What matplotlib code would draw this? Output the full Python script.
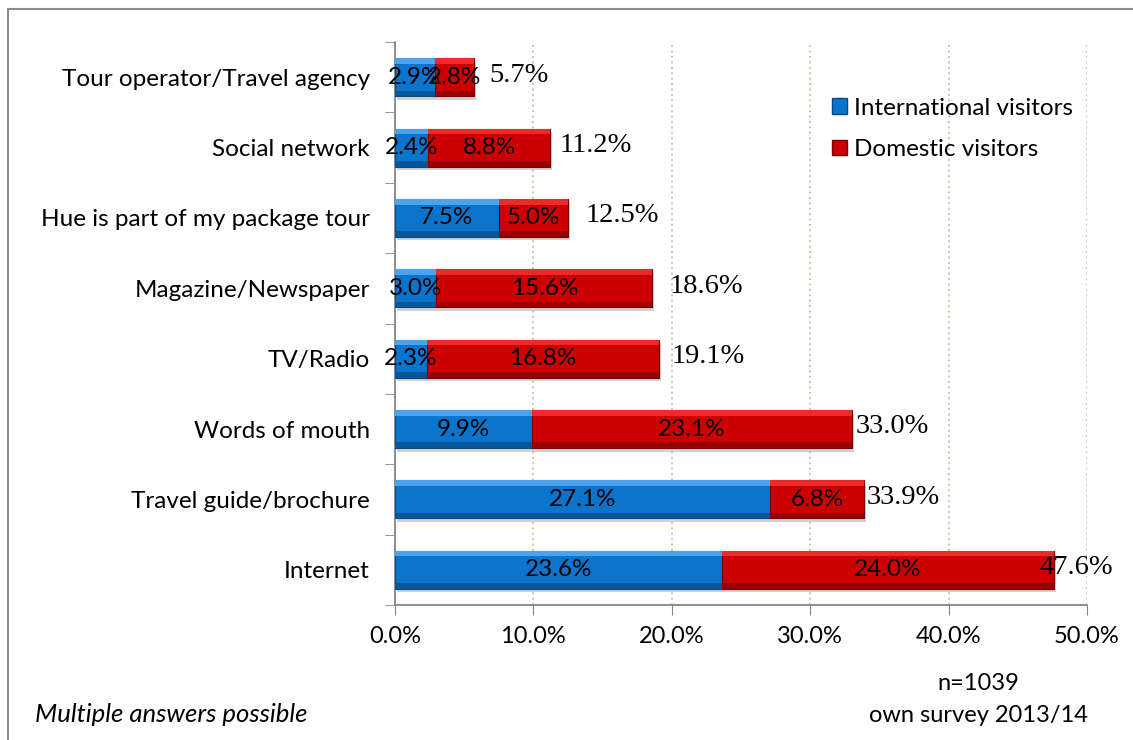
import matplotlib.pyplot as plt
from matplotlib.patches import Rectangle, Patch
from matplotlib.ticker import FixedLocator, FuncFormatter
from matplotlib.transforms import offset_copy

categories = ["Tour operator/Travel agency", "Social network", "Hue is part of my package tour",
              "Magazine/Newspaper", "TV/Radio", "Words of mouth", "Travel guide/brochure", "Internet"]
international = [2.9, 2.4, 7.5, 3.0, 2.3, 9.9, 27.1, 23.6]
domestic = [2.8, 8.8, 5.0, 15.6, 16.8, 23.1, 6.8, 24.0]
totals = [a + b for a, b in zip(international, domestic)]

# hand-placed nudges (points) for the total labels
total_dx = [11, 7, 13, 12, 9, 3, 2, -10]

sans = ["Lato", "DejaVu Sans"]
serif = ["Liberation Serif", "DejaVu Serif"]

fig = plt.figure(figsize=(11.33, 7.4), dpi=100)
ax = fig.add_axes([0.3486, 0.1824, 0.6108, 0.7608])

# outer chart frame
fig.patches.append(Rectangle((8 / 1133, -0.5), 2.0, 1.5 - 9 / 740, transform=fig.transFigure,
                             fill=False, edgecolor="#8c8c8c", linewidth=1.5))

ypos = list(range(len(categories)))
h = 0.54
styles = {
    "blue": ("#0b74cc", "#4aa3ee", "#07569a", "#054a86"),
    "red": ("#cc0000", "#ec2a2a", "#980000", "#7a0000"),
}


def bevel_bars(widths, lefts, key):
    main, light, dark, edge = styles[key]
    # soft drop shadow
    ax.barh([y + 0.05 for y in ypos], widths, left=[l + 0.15 for l in lefts], height=h,
            color="#000000", alpha=0.18, linewidth=0, zorder=2)
    ax.barh(ypos, widths, left=lefts, height=h, color=main, edgecolor=edge, linewidth=0.8, zorder=3)
    ax.barh([y - h / 2 + 0.04 for y in ypos], widths, left=lefts, height=0.08,
            color=light, linewidth=0, zorder=4)
    ax.barh([y + h / 2 - 0.04 for y in ypos], widths, left=lefts, height=0.08,
            color=dark, linewidth=0, zorder=4)


bevel_bars(international, [0] * len(ypos), "blue")
bevel_bars(domestic, international, "red")

for y, a, b, t, dx in zip(ypos, international, domestic, totals, total_dx):
    ax.text(a / 2, y, f"{a:.1f}%", ha="center", va="center", fontsize=17.5, family=sans, zorder=6)
    ax.text(a + b / 2, y, f"{b:.1f}%", ha="center", va="center", fontsize=17.5, family=sans, zorder=6)
    tr = offset_copy(ax.transData, fig=fig, x=dx, y=0, units="points")
    ax.text(t, y - 0.03, f"{t:.1f}%", ha="left", va="center", fontsize=20.5, family=serif,
            zorder=6, transform=tr)

ax.set_xlim(0, 50)
ax.set_ylim(7.5, -0.5)
ax.set_xticks([0, 10, 20, 30, 40, 50])
ax.xaxis.set_major_formatter(FuncFormatter(lambda v, p: f"{v:.1f}%"))
ax.set_yticks(ypos)
ax.set_yticklabels(categories)
ax.yaxis.set_minor_locator(FixedLocator([y - 0.5 for y in ypos] + [7.5]))
ax.tick_params(axis="y", which="major", length=0, pad=18, labelsize=17.5)
ax.tick_params(axis="y", which="minor", length=7, color="#868686", direction="out")
ax.tick_params(axis="x", length=7, color="#868686", pad=8, labelsize=17)
for lab in ax.get_xticklabels() + ax.get_yticklabels():
    lab.set_family(sans)

ax.xaxis.grid(True, color="#c4bd97", linestyle=(0, (1, 2)), linewidth=1.3)
ax.set_axisbelow(True)
for side in ["top", "right"]:
    ax.spines[side].set_visible(False)
for side in ["left", "bottom"]:
    ax.spines[side].set_color("#868686")
    ax.spines[side].set_linewidth(1.3)

handles = [Patch(facecolor=styles["blue"][0], edgecolor=styles["blue"][3], label="International visitors"),
           Patch(facecolor=styles["red"][0], edgecolor=styles["red"][3], label="Domestic visitors")]
ax.legend(handles=handles, loc="upper left", bbox_to_anchor=(0.6, 0.94), frameon=False,
          prop={"family": sans, "size": 17.5}, handlelength=0.6, handleheight=0.6,
          handletextpad=0.3, labelspacing=0.85)

fig.text(35 / 1133, 1 - 715 / 740, "Multiple answers possible", fontsize=18.5, style="italic",
         family=sans, va="center", ha="left")
fig.text(978 / 1133, 1 - 683 / 740, "n=1039", fontsize=17, family=sans, va="center", ha="center")
fig.text(978 / 1133, 1 - 715 / 740, "own survey 2013/14", fontsize=17, family=sans, va="center", ha="center")

fig.savefig("out.png", dpi=100)
